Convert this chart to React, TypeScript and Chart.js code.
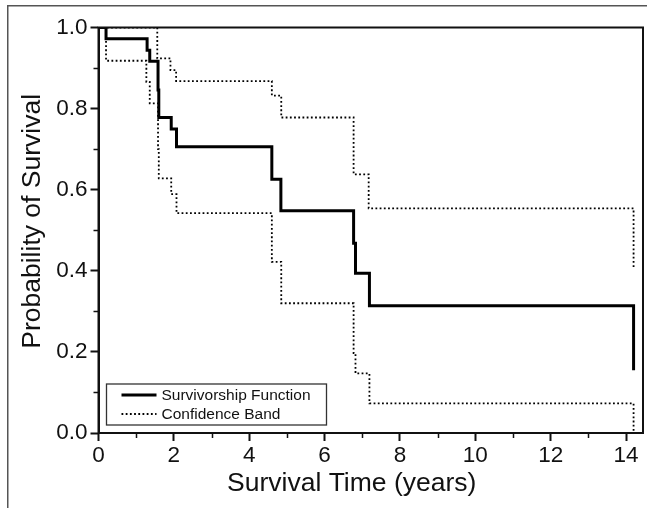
import { useEffect, useRef } from 'react';
import { Chart, registerables } from 'chart.js';

Chart.register(...registerables);

// ---- data ----
const survTimes = [0, 0.2, 1.29, 1.36, 1.58, 1.6, 1.93, 2.07, 4.6, 4.84, 6.77, 6.82, 7.19, 14.2];
const survValues = [1, 0.972, 0.944, 0.917, 0.846, 0.778, 0.75, 0.706, 0.626, 0.548, 0.468, 0.394, 0.314, 0.155];

const upperTimes = [0, 1.56, 1.91, 2.06, 4.6, 4.85, 6.77, 7.17, 14.2];
const upperValues = [1, 0.924, 0.895, 0.868, 0.832, 0.778, 0.638, 0.554, 0.406];

const lowerTimes = [0, 0.2, 1.27, 1.36, 1.58, 1.6, 1.93, 2.07, 4.6, 4.85, 6.77, 6.82, 7.19, 14.2];
const lowerValues = [1, 0.918, 0.866, 0.813, 0.7, 0.628, 0.589, 0.542, 0.422, 0.32, 0.197, 0.147, 0.073, 0];

const xMajorTicks = [0, 2, 4, 6, 8, 10, 12, 14];
const xMinorTicks = [1, 3, 5, 7, 9, 11, 13];
const yMajorTicks = [0, 0.2, 0.4, 0.6, 0.8, 1.0];
const yMinorTicks = [0.1, 0.3, 0.5, 0.7, 0.9];
const yTickLabels = ['0.0', '0.2', '0.4', '0.6', '0.8', '1.0'];

const xTitle = 'Survival Time (years)';
const yTitle = 'Probability of Survival';
const legendLabels = ['Survivorship Function', 'Confidence Band'];

const FONT = '"Liberation Sans", Arial, sans-serif';
const INK = '#111111';

const toPoints = (xs: number[], ys: number[]) => xs.map((x, i) => ({ x, y: ys[i] }));

const decorations = {
  id: 'decorations',
  beforeDraw(chart: any) {
    const { ctx, width, height } = chart;
    ctx.save();
    ctx.fillStyle = '#ffffff';
    ctx.fillRect(0, 0, width, height);
    // outer figure frame (left + top)
    ctx.strokeStyle = '#555555';
    ctx.lineWidth = 1.5;
    ctx.beginPath();
    ctx.moveTo(7.75, height);
    ctx.lineTo(7.75, 5.75);
    ctx.lineTo(width, 5.75);
    ctx.stroke();
    ctx.restore();
  },
  afterDraw(chart: any) {
    const { ctx, chartArea: a, scales } = chart;
    const xs = scales.x;
    const ys = scales.y;
    ctx.save();
    // plot frame
    ctx.strokeStyle = INK;
    ctx.lineWidth = 2;
    ctx.strokeRect(a.left, a.top, a.right - a.left, a.bottom - a.top);
    // minor ticks
    ctx.lineWidth = 1.5;
    ctx.beginPath();
    xMinorTicks.forEach((v) => {
      const px = Math.round(xs.getPixelForValue(v)) + 0.5;
      ctx.moveTo(px, a.bottom);
      ctx.lineTo(px, a.bottom + 5);
    });
    yMinorTicks.forEach((v) => {
      const py = Math.round(ys.getPixelForValue(v)) + 0.5;
      ctx.moveTo(a.left, py);
      ctx.lineTo(a.left - 5, py);
    });
    ctx.stroke();

    // legend box
    const lx = a.left + 8;
    const lw = 220;
    const lh = 41;
    const ly = a.bottom - 8 - lh;
    ctx.strokeStyle = '#333';
    ctx.lineWidth = 1.3;
    ctx.fillStyle = '#ffffff';
    ctx.fillRect(lx, ly, lw, lh);
    ctx.strokeRect(lx, ly, lw, lh);
    const ds = chart.data.datasets;
    legendLabels.forEach((label, i) => {
      const cy = ly + 11 + i * 19;
      const d = ds[i];
      ctx.beginPath();
      ctx.strokeStyle = d.borderColor;
      ctx.lineWidth = d.borderWidth;
      ctx.setLineDash(d.borderDash || []);
      ctx.moveTo(lx + 15, cy);
      ctx.lineTo(lx + 50, cy);
      ctx.stroke();
      ctx.setLineDash([]);
      ctx.fillStyle = INK;
      ctx.font = `15.5px ${FONT}`;
      ctx.textAlign = 'left';
      ctx.textBaseline = 'middle';
      ctx.fillText(label, lx + 55, cy + 1);
    });

    // axis titles
    ctx.fillStyle = INK;
    ctx.font = `26.5px ${FONT}`;
    ctx.textAlign = 'center';
    ctx.textBaseline = 'middle';
    ctx.fillText(xTitle, a.left + (a.right - a.left) * 0.465, a.bottom + 51);
    ctx.save();
    ctx.translate(33, a.top + (a.bottom - a.top) * 0.478);
    ctx.rotate(-Math.PI / 2);
    ctx.fillText(yTitle, 0, 0);
    ctx.restore();
    ctx.restore();
  },
};

export default function App() {
  const canvasRef = useRef<HTMLCanvasElement | null>(null);

  useEffect(() => {
    const canvas = canvasRef.current;
    if (!canvas) return;
    const chart = new Chart(canvas, {
      type: 'line',
      data: {
        datasets: [
          {
            label: legendLabels[0],
            data: toPoints(survTimes, survValues),
            borderColor: '#000000',
            borderWidth: 3,
            stepped: 'before',
            pointRadius: 0,
            fill: false,
          },
          {
            label: legendLabels[1],
            data: toPoints(upperTimes, upperValues),
            borderColor: '#000000',
            borderWidth: 1.8,
            borderDash: [1.8, 2.4],
            stepped: 'before',
            pointRadius: 0,
            fill: false,
          },
          {
            label: legendLabels[1] + ' (lower)',
            data: toPoints(lowerTimes, lowerValues),
            borderColor: '#000000',
            borderWidth: 1.8,
            borderDash: [1.8, 2.4],
            stepped: 'before',
            pointRadius: 0,
            fill: false,
          },
        ],
      },
      options: {
        responsive: false,
        animation: false,
        events: [],
        layout: { padding: { top: 27.5, right: 4, left: 0, bottom: 0 } },
        plugins: {
          legend: { display: false },
          tooltip: { enabled: false },
          title: { display: false },
        },
        scales: {
          x: {
            type: 'linear',
            min: 0,
            max: 14.45,
            afterBuildTicks: (scale: any) => {
              scale.ticks = xMajorTicks.map((value) => ({ value }));
            },
            afterFit: (scale: any) => {
              scale.height = 75;
            },
            ticks: {
              color: INK,
              font: { family: FONT, size: 22.5 },
              padding: 1,
              maxRotation: 0,
              autoSkip: false,
              callback: (v: any) => String(v),
            },
            grid: {
              drawOnChartArea: false,
              drawTicks: true,
              tickLength: 8,
              tickColor: INK,
              tickWidth: 2,
            },
            border: { display: true, color: INK, width: 2 },
          },
          y: {
            type: 'linear',
            min: 0,
            max: 1,
            afterBuildTicks: (scale: any) => {
              scale.ticks = yMajorTicks.map((value) => ({ value }));
            },
            afterFit: (scale: any) => {
              scale.width = 98.5;
            },
            ticks: {
              color: INK,
              font: { family: FONT, size: 22.5 },
              padding: 3,
              autoSkip: false,
              callback: (v: any) => {
                const i = yMajorTicks.findIndex((t) => Math.abs(t - v) < 1e-6);
                return i >= 0 ? yTickLabels[i] : '';
              },
            },
            grid: {
              drawOnChartArea: false,
              drawTicks: true,
              tickLength: 8,
              tickColor: INK,
              tickWidth: 2,
            },
            border: { display: true, color: INK, width: 2 },
          },
        },
      },
      plugins: [decorations],
    });
    return () => chart.destroy();
  }, []);

  return (
    <div style={{ position: 'fixed', left: 0, top: 0, width: 647, height: 508, overflow: 'hidden', background: '#fff' }}>
      <canvas ref={canvasRef} width={647} height={508} style={{ display: 'block', width: 647, height: 508 }} />
    </div>
  );
}
